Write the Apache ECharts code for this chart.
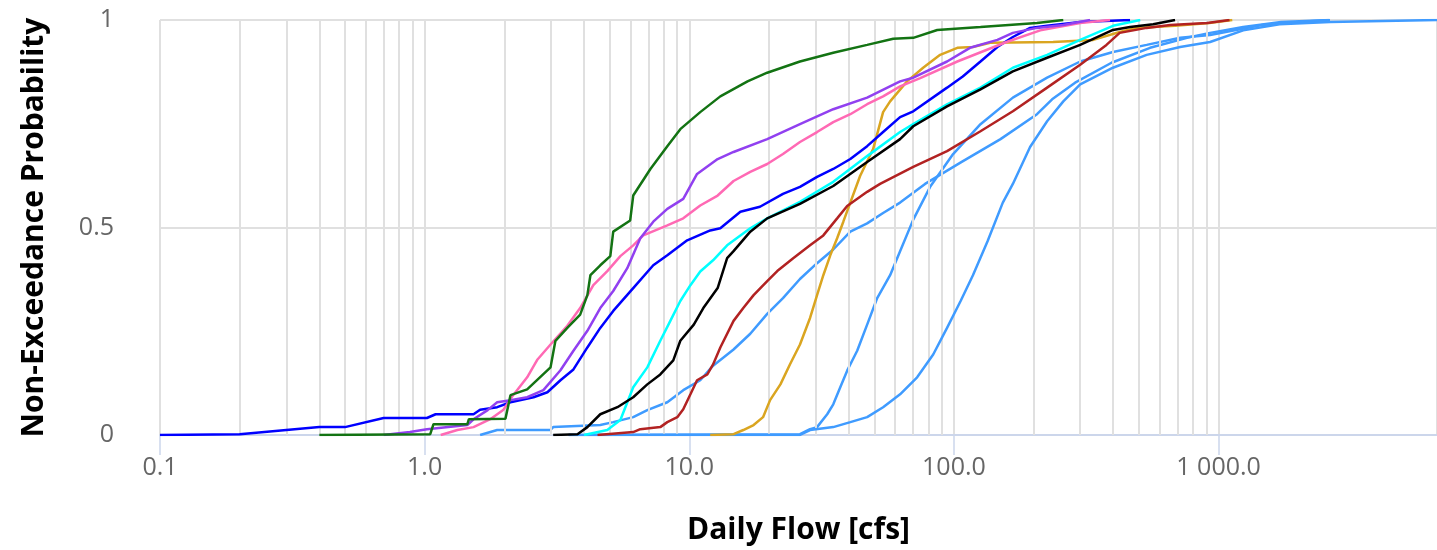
<!DOCTYPE html>
<html><head><meta charset="utf-8">
<script src="https://cdn.jsdelivr.net/npm/echarts@6/dist/echarts.min.js"></script>
<style>html,body{margin:0;padding:0;background:#fff}#c{width:1437px;height:550px}</style>
</head><body><div id="c"></div>
<script>
// Axis range and tick values
const xMin = 0.1, xMax = 6690;
const minorGridValues = [0.2,0.3,0.4,0.5,0.6,0.7,0.8,0.9,2,3,4,5,6,7,8,9,20,30,40,50,60,70,80,90,200,300,400,500,600,700,800,900];
const xTitle = 'Daily Flow [cfs]';
const yTitle = 'Non-Exceedance Probability';

// Series data: [daily flow, non-exceedance probability]
const green = [[0.40,0],[1.05,0.002],[1.08,0.026],[1.45,0.026],[1.47,0.038],[2.02,0.039],[2.11,0.096],[2.44,0.110],[2.99,0.163],[3.12,0.227],[3.46,0.258],[3.87,0.290],[4.12,0.337],[4.23,0.385],[4.61,0.409],[5.03,0.431],[5.16,0.490],[5.98,0.517],[6.14,0.577],[7.13,0.641],[8.26,0.696],[9.25,0.737],[11.0,0.778],[13.1,0.816],[16.6,0.852],[19.7,0.873],[26.2,0.900],[35.0,0.921],[47.0,0.940],[59.0,0.955],[70.2,0.957],[86.5,0.976],[126,0.983],[206,0.993],[259,1.0]];
const purple = [[0.70,0],[0.88,0.007],[1.02,0.014],[1.45,0.024],[1.53,0.038],[1.73,0.060],[1.88,0.079],[2.11,0.084],[2.44,0.091],[2.81,0.108],[3.26,0.156],[3.65,0.203],[4.12,0.251],[4.61,0.306],[5.16,0.347],[5.83,0.402],[6.53,0.474],[7.31,0.514],[8.26,0.545],[9.49,0.569],[10.7,0.629],[12.8,0.665],[14.7,0.682],[19.7,0.713],[26.2,0.749],[35.0,0.785],[47.0,0.813],[62.6,0.852],[70.2,0.861],[94.2,0.900],[115,0.933],[146,0.952],[167,0.969],[206,0.981],[259,0.988],[327,1.0]];
const pink = [[1.15,0],[1.33,0.012],[1.53,0.019],[1.77,0.038],[1.98,0.060],[2.16,0.096],[2.44,0.139],[2.67,0.182],[2.99,0.218],[3.46,0.263],[3.87,0.306],[4.34,0.361],[4.90,0.395],[5.49,0.431],[6.14,0.457],[6.70,0.481],[8.26,0.505],[9.49,0.522],[11.0,0.553],[12.8,0.577],[14.7,0.612],[17.0,0.634],[19.7,0.653],[22.6,0.677],[26.2,0.706],[30.4,0.730],[35.0,0.754],[40.6,0.773],[47.0,0.797],[54.0,0.816],[62.6,0.840],[74.6,0.86],[103,0.90],[158,0.947],[212,0.975],[300,0.993],[389,1.0]];
const blue = [[0.1,0],[0.2,0.002],[0.4,0.019],[0.5,0.019],[0.7,0.041],[1.02,0.041],[1.1,0.05],[1.53,0.05],[1.62,0.061],[1.88,0.067],[2.11,0.079],[2.58,0.091],[2.91,0.103],[3.26,0.132],[3.65,0.158],[4.12,0.211],[4.61,0.258],[5.16,0.299],[6.14,0.354],[7.31,0.409],[8.26,0.433],[9.82,0.469],[12.0,0.493],[13.1,0.498],[15.6,0.538],[18.5,0.55],[22.6,0.581],[26.2,0.598],[30.4,0.622],[35.0,0.641],[40.6,0.665],[47.0,0.696],[54.0,0.73],[62.6,0.766],[70.2,0.780],[94.2,0.837],[108,0.864],[126,0.9],[146,0.935],[167,0.959],[194,0.981],[225,0.986],[300,0.995],[463,1.0]];
const cyan = [[4.0,0],[4.90,0.012],[5.49,0.036],[6.14,0.115],[6.94,0.163],[7.77,0.227],[8.48,0.275],[9.25,0.323],[10.1,0.361],[11.0,0.394],[12.3,0.421],[13.9,0.457],[17.0,0.498],[19.7,0.522],[26.2,0.562],[35.0,0.610],[47.0,0.672],[62.6,0.730],[70.2,0.749],[94.2,0.797],[126,0.837],[167,0.885],[225,0.916],[300,0.952],[399,0.986],[506,1.0]];
const black = [[3.06,0],[3.78,0.002],[4.12,0.019],[4.61,0.050],[5.35,0.067],[6.14,0.091],[6.94,0.122],[7.77,0.146],[8.70,0.180],[9.25,0.227],[10.4,0.266],[11.3,0.306],[12.8,0.354],[13.9,0.426],[14.7,0.443],[17.0,0.490],[19.7,0.522],[26.2,0.557],[35.0,0.600],[47.0,0.658],[62.6,0.713],[70.2,0.744],[94.2,0.792],[126,0.833],[167,0.876],[225,0.909],[300,0.940],[399,0.976],[463,0.983],[566,0.990],[685,1.0]];
const firebrick = [[4.5,0],[6.14,0.007],[6.53,0.014],[7.77,0.019],[8.26,0.031],[9.01,0.043],[9.49,0.062],[10.1,0.098],[10.7,0.132],[11.7,0.146],[12.3,0.170],[13.1,0.211],[14.7,0.275],[16.0,0.306],[17.5,0.337],[19.7,0.371],[21.5,0.395],[24.7,0.426],[28.6,0.457],[32.1,0.481],[36.2,0.522],[39.5,0.552],[47.0,0.586],[52.6,0.605],[70.2,0.646],[94.2,0.684],[126,0.732],[167,0.780],[225,0.837],[300,0.892],[377,0.940],[423,0.969],[535,0.981],[656,0.988],[906,0.993],[1100,1.0]];
const gold = [[12.0,0],[14.7,0.002],[16.0,0.012],[17.5,0.024],[19.0,0.043],[20.2,0.084],[22.1,0.122],[24.0,0.170],[26.2,0.218],[28.6,0.282],[30.4,0.337],[32.1,0.385],[34.1,0.433],[36.2,0.474],[38.2,0.514],[44.2,0.624],[49.5,0.689],[54.0,0.778],[57.4,0.804],[66.5,0.852],[76.5,0.885],[88.7,0.916],[103,0.933],[118,0.935],[137,0.945],[237,0.947],[336,0.952],[423,0.971],[490,0.981],[685,0.986],[923,0.993],[1127,1.0]];
const lightBlue1 = [[1.62,0],[1.88,0.012],[2.99,0.012],[3.06,0.019],[4.61,0.024],[5.16,0.031],[6.14,0.043],[6.94,0.060],[8.26,0.079],[9.49,0.108],[11.0,0.132],[12.3,0.167],[14.7,0.206],[17.0,0.244],[19.7,0.292],[22.6,0.33],[26.2,0.376],[30.4,0.414],[35.0,0.447],[40.6,0.490],[47.0,0.51],[54.0,0.535],[62.6,0.56],[77.8,0.605],[107,0.658],[150,0.713],[206,0.773],[235,0.809],[287,0.849],[394,0.897],[551,0.933],[760,0.957],[929,0.969],[1239,0.983],[1722,0.995],[2637,1.0]];
const lightBlue2 = [[3.5,0],[26.2,0.002],[28.6,0.014],[30.4,0.019],[33.2,0.050],[35.0,0.074],[37.2,0.115],[39.5,0.155],[43.1,0.203],[47.0,0.266],[51.3,0.330],[57.4,0.385],[62.6,0.443],[70.2,0.519],[81.3,0.598],[99.3,0.677],[126,0.749],[167,0.813],[225,0.861],[300,0.900],[399,0.923],[535,0.940],[716,0.957],[929,0.964],[1459,0.988],[2000,0.995],[2614,1.0]];
const lightBlue3 = [[3.5,0],[26.2,0],[28.6,0.012],[35.0,0.019],[40.6,0.031],[47.0,0.043],[54.0,0.067],[62.6,0.098],[72.6,0.139],[83.5,0.194],[94.2,0.258],[106,0.323],[118,0.385],[134,0.467],[153,0.56],[167,0.605],[194,0.694],[225,0.756],[259,0.804],[300,0.845],[399,0.885],[535,0.916],[716,0.935],[929,0.947],[1239,0.975],[1700,0.99],[2637,0.995],[6690,1.0]];

const FONT = '"Open Sans", sans-serif';
const GRID_COLOR = '#e0e0e0';
const lineSeries = [
  ['Series 9', lightBlue1, '#3f9bff'],
  ['Series 10', lightBlue2, '#3f9bff'],
  ['Series 11', lightBlue3, '#3f9bff'],
  ['Series 8', gold, '#daa520'],
  ['Series 7', firebrick, '#b22222'],
  ['Series 5', cyan, '#00ffff'],
  ['Series 6', black, '#000000'],
  ['Series 4', blue, '#0000ff'],
  ['Series 3', pink, '#ff69b4'],
  ['Series 2', purple, '#9140f0'],
  ['Series 1', green, '#137313']
].map(([name, data, color], i) => ({
  name, type: 'line', data, showSymbol: false, symbol: 'none', z: 3 + i,
  lineStyle: { color, width: 2.5 }, itemStyle: { color }, animation: false
}));

const chart = echarts.init(document.getElementById('c'), null, { renderer: 'canvas' });
chart.setOption({
  animation: false,
  backgroundColor: '#ffffff',
  grid: { left: 160, right: 0, top: 20, bottom: 112, containLabel: false },
  xAxis: {
    type: 'log', logBase: 10, min: xMin, max: xMax,
    name: xTitle, nameLocation: 'middle', nameGap: 80,
    nameTextStyle: { fontFamily: FONT, fontWeight: 'bold', fontSize: 30, color: '#000' },
    axisLine: { show: true, lineStyle: { color: '#ccd6eb', width: 2 } },
    axisTick: { show: true, length: 20, lineStyle: { color: '#ccd6eb', width: 1.5 } },
    axisLabel: {
      margin: 20, color: '#666', fontFamily: FONT, fontSize: 25, showMaxLabel: false,
      formatter: v => {
        const s = Number(v).toFixed(1).split('.');
        return s[0].replace(/\B(?=(\d{3})+(?!\d))/g, ' ') + '.' + s[1];
      }
    },
    splitLine: { show: true, lineStyle: { color: GRID_COLOR, width: 2 } }
  },
  yAxis: {
    type: 'value', min: 0, max: 1, interval: 0.5,
    name: yTitle, nameLocation: 'middle', nameGap: 111, nameRotate: 90,
    nameTextStyle: { fontFamily: FONT, fontWeight: 'bold', fontSize: 30, color: '#000' },
    axisLine: { show: false }, axisTick: { show: false },
    axisLabel: { margin: 46, color: '#666', fontFamily: FONT, fontSize: 25 },
    splitLine: { show: true, lineStyle: { color: GRID_COLOR, width: 2 } }
  },
  series: [{
    name: 'minor grid', type: 'line', data: [], z: 1, silent: true,
    markLine: {
      silent: true, symbol: 'none', animation: false,
      label: { show: false },
      lineStyle: { color: GRID_COLOR, width: 2, type: 'solid' },
      data: minorGridValues.map(v => ({ xAxis: v }))
    }
  }].concat(lineSeries)
});
</script></body></html>
